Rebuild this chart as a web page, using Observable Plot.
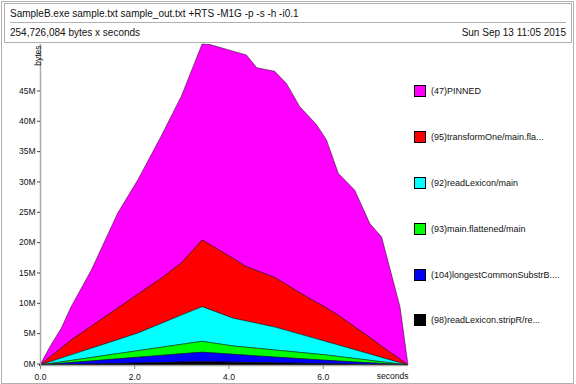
<!DOCTYPE html>
<html><head><meta charset="utf-8">
<script src="https://cdn.jsdelivr.net/npm/d3@7"></script>
<script src="https://cdn.jsdelivr.net/npm/@observablehq/plot@0.6"></script>
<style>
body{margin:0;background:#fff;font-family:"Liberation Sans",Arial,sans-serif;}
#page{position:relative;width:576px;height:384px;overflow:hidden;background:#fff;}
#chart{position:absolute;left:0;top:0;}
#border{position:absolute;left:0.5px;top:0.5px;width:573px;height:383px;box-sizing:border-box;border:1.5px solid #b0b0b0;pointer-events:none;}
#hdr{position:absolute;left:4px;top:3px;width:568px;height:40px;box-sizing:border-box;border:1.5px solid #b0b0b0;background:#fff;font-size:10px;color:#111;}
#hdr .r1{position:absolute;left:5px;right:5px;top:0;height:18px;line-height:19px;border-bottom:1.5px solid #b0b0b0;}
#hdr .r2{position:absolute;left:5px;right:5px;top:19px;height:18px;line-height:19px;}
#hdr .r2 span.right{position:absolute;right:0;}
#legend{position:absolute;left:0;top:0;}
.li{position:absolute;left:414px;height:13px;font-size:9px;line-height:13px;white-space:nowrap;color:#111;}
.sw{position:absolute;left:0;top:0;width:12px;height:12px;box-sizing:border-box;border:1px solid #000;}
.lt{position:absolute;left:17px;top:0;}
</style>
</head><body>
<div id="page">
  <div id="chart"></div>
  <div id="hdr">
    <div class="r1" id="title"></div>
    <div class="r2"><span id="sub"></span><span class="right" id="date"></span></div>
  </div>
  <div id="legend"></div>
  <div id="border"></div>
</div>
<script>
const titleText = "SampleB.exe sample.txt sample_out.txt +RTS -M1G -p -s -h -i0.1";
const subText = "254,726,084 bytes x seconds";
const dateText = "Sun Sep 13 11:05 2015";

// sample times (seconds)
const times = [0,0.21,0.45,0.66,1.09,1.65,2.08,2.57,3.0,3.44,3.61,4.1,4.38,4.6,4.98,5.23,5.51,5.87,6.08,6.33,6.68,7.0,7.25,7.64,7.81];
// band values in M bytes
const pinned       = [0,1.71,3.23,5.48,9.25,15.66,18.87,23.42,27.48,32.3,32.96,34.16,34.9,33.45,33.98,33.12,30.67,29.3,27.7,23.4,22.52,18.77,18.0,8.64,0];
const transformOne = [0,0.78,1.67,2.45,3.65,5.21,6.41,7.44,8.60,11.0,10.72,9.86,8.95,8.66,8.17,7.57,6.83,5.99,5.55,4.91,3.76,2.72,1.85,0.58,0];
const readLexicon  = [0,0.29,0.63,0.92,1.52,2.30,2.91,3.92,4.81,5.70,5.42,4.57,4.33,4.13,3.78,3.42,3.02,2.50,2.20,1.88,1.44,1.04,0.72,0.22,0];
const flattened    = [0,0.11,0.23,0.34,0.57,0.87,1.08,1.34,1.56,1.79,1.68,1.37,1.31,1.26,1.17,1.11,1.03,0.94,0.88,0.75,0.58,0.41,0.28,0.085,0];
const longestCS    = [0,0.10,0.21,0.30,0.50,0.75,0.95,1.17,1.37,1.56,1.49,1.29,1.18,1.10,0.94,0.86,0.76,0.63,0.55,0.47,0.36,0.26,0.18,0.055,0];
const stripR       = [0,0.03,0.07,0.11,0.17,0.26,0.33,0.41,0.48,0.55,0.53,0.47,0.43,0.40,0.36,0.32,0.29,0.24,0.22,0.19,0.14,0.10,0.07,0.02,0];

// legend order (top to bottom) = stack order reversed
const seriesNames = ["(47)PINNED","(95)transformOne/main.fla...","(92)readLexicon/main","(93)main.flattened/main","(104)longestCommonSubstrB....","(98)readLexicon.stripR/re..."];
const seriesColors = ["#ff00ff","#ff0000","#00ffff","#00ff00","#0000ff","#000000"];
const seriesValues = [pinned, transformOne, readLexicon, flattened, longestCS, stripR];

const xTicks = [0,2,4,6];
const yTicks = [0,5,10,15,20,25,30,35,40,45];

const data = [];
seriesNames.forEach((s, i) => times.forEach((t, j) => data.push({t, v: seriesValues[i][j], s})));
const stackOrder = seriesNames.slice().reverse();

document.getElementById("title").textContent = titleText;
document.getElementById("sub").textContent = subText;
document.getElementById("date").textContent = dateText;

const chart = Plot.plot({
  width: 576, height: 384,
  marginTop: 44, marginBottom: 19, marginLeft: 40, marginRight: 168,
  style: {fontFamily: '"Liberation Sans", Arial, sans-serif', fontSize: "8.5px", color: "#111", background: "transparent"},
  x: {domain: [0, 7.81]},
  y: {domain: [0, 52.9]},
  color: {domain: seriesNames, range: seriesColors},
  marks: [
    Plot.areaY(data, {x: "t", y: "v", z: "s", fill: "s", order: stackOrder, stroke: "#000", strokeWidth: 0.6, strokeOpacity: 0.8}),
    Plot.ruleY([0], {stroke: "#aaa", strokeWidth: 1.5}),
    Plot.ruleX([0], {stroke: "#aaa", strokeWidth: 1.5}),
    Plot.axisX({ticks: xTicks, tickFormat: d3.format(".1f"), tickSize: 4, tickPadding: 4, stroke: "#888", label: null}),
    Plot.axisY({ticks: yTicks, tickFormat: d => d + "M", tickSize: 3, tickPadding: 2, dy: -1.5, stroke: "#444", label: null}),
    Plot.text(["seconds"], {frameAnchor: "bottom-right", textAnchor: "end", dy: 13}),
    Plot.text(["bytes"], {frameAnchor: "top-left", rotate: -90, textAnchor: "end", dx: -6, dy: 1})
  ]
});
document.getElementById("chart").appendChild(chart);

const legend = document.getElementById("legend");
const legendTop = [84.5, 130.5, 176.5, 222.5, 268.5, 314];
seriesNames.forEach((s, i) => {
  const li = document.createElement("div");
  li.className = "li";
  li.style.top = legendTop[i] + "px";
  const sw = document.createElement("div");
  sw.className = "sw";
  sw.style.background = seriesColors[i];
  const lt = document.createElement("div");
  lt.className = "lt";
  lt.textContent = s;
  li.appendChild(sw); li.appendChild(lt);
  legend.appendChild(li);
});
</script>
</body></html>
